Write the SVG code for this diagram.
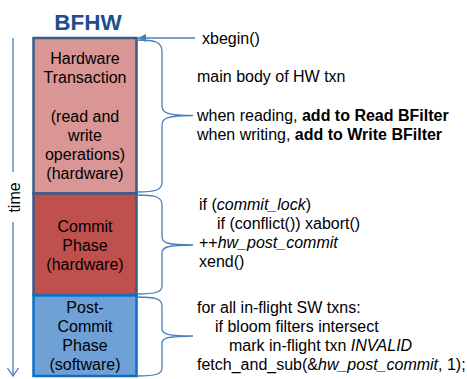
<svg xmlns="http://www.w3.org/2000/svg" width="467" height="379" viewBox="0 0 467 379">
<style>
text{font-family:"Liberation Sans",Arial,sans-serif;font-size:16px;fill:#000}
.c{text-anchor:middle}
.b{font-weight:bold}
.i{font-style:italic}
.br{fill:none;stroke:#4a7ebb;stroke-width:1.3}
.ax{fill:none;stroke:#4a7ebb;stroke-width:1.3}
</style>
<defs>
<marker id="fa" viewBox="0 0 10 10" refX="10" refY="5" markerWidth="10" markerHeight="8" markerUnits="userSpaceOnUse" orient="auto">
<path d="M0,0 L10,5 L0,10 Z" fill="#4a7ebb"/>
</marker>
<marker id="oa" viewBox="0 0 10 12" refX="9" refY="6" markerWidth="10" markerHeight="12" markerUnits="userSpaceOnUse" orient="auto">
<path d="M1,0.5 L9,6 L1,11.5" fill="none" stroke="#4a7ebb" stroke-width="1.3"/>
</marker>
</defs>
<g id="title"><text x="88" y="30" class="c b" style="font-size:22.5px;fill:#1f4e8a">BFHW</text></g>
<g id="time-axis">
<line class="ax" x1="13" y1="38" x2="13" y2="172"/>
<text transform="translate(20,197.5) rotate(-90)" class="c">time</text>
<path class="ax" d="M13,222 L13,376" marker-end="url(#oa)"/>
</g>
<g id="hw-txn">
<rect x="33.5" y="38" width="103" height="155.5" fill="#d99694" stroke="#385d8a" stroke-width="2.5"/>
<text x="85" y="64" class="c">Hardware</text>
<text x="85" y="83" class="c">Transaction</text>
<text x="85" y="122" class="c">(read and</text>
<text x="85" y="141" class="c">write</text>
<text x="85" y="160" class="c">operations)</text>
<text x="85" y="179" class="c">(hardware)</text>
</g>
<g id="commit-phase">
<rect x="33.5" y="193.5" width="103" height="101.5" fill="#c0504d" stroke="#385d8a" stroke-width="2.5"/>
<text x="85" y="232" class="c">Commit</text>
<text x="85" y="251" class="c">Phase</text>
<text x="85" y="270" class="c">(hardware)</text>
</g>
<g id="post-commit">
<rect x="33.5" y="295.5" width="103" height="80.5" fill="#6fa1d6" stroke="#0f6fc6" stroke-width="2.5"/>
<text x="85" y="313" class="c">Post-</text>
<text x="85" y="332" class="c">Commit</text>
<text x="85" y="351" class="c">Phase</text>
<text x="85" y="370" class="c">(software)</text>
</g>
<g id="connectors">
<line x1="195" y1="38" x2="138" y2="38" stroke="#4a7ebb" stroke-width="1.3" marker-end="url(#fa)"/>
<path class="br" d="M137,40 C156,40 162,42 162,52 L162,106 C162,113 168,115.5 193,115.5 C168,115.5 162,118 162,125 L162,182 C162,190 156,192 137,192"/>
<path class="br" d="M137,195 C156,195 162,197 162,205 L162,237 C162,243 168,245 193,245 C168,245 162,247 162,253 L162,286 C162,292 156,294 137,294"/>
<path class="br" d="M137,297 C156,297 162,299 162,306 L162,329 C162,334 168,336 193,336 C168,336 162,338 162,343 L162,368 C162,374 156,376 137,376"/>
</g>
<g id="notes">
<text x="202" y="44">xbegin()</text>
<text x="197" y="82">main body of HW txn</text>
<text x="197" y="121">when reading, <tspan class="b">add to Read BFilter</tspan></text>
<text x="197" y="140">when writing, <tspan class="b">add to Write BFilter</tspan></text>
<text x="199" y="210">if (<tspan class="i">commit_lock</tspan>)</text>
<text x="217" y="229">if (conflict()) xabort()</text>
<text x="199" y="248">++<tspan class="i">hw_post_commit</tspan></text>
<text x="199" y="267">xend()</text>
<text x="197" y="313">for all in-flight SW txns:</text>
<text x="215" y="332">if bloom filters intersect</text>
<text x="229" y="351">mark in-flight txn <tspan class="i">INVALID</tspan></text>
<text x="197" y="370">fetch_and_sub(&amp;<tspan class="i">hw_post_commit</tspan>, 1);</text>
</g>
</svg>
